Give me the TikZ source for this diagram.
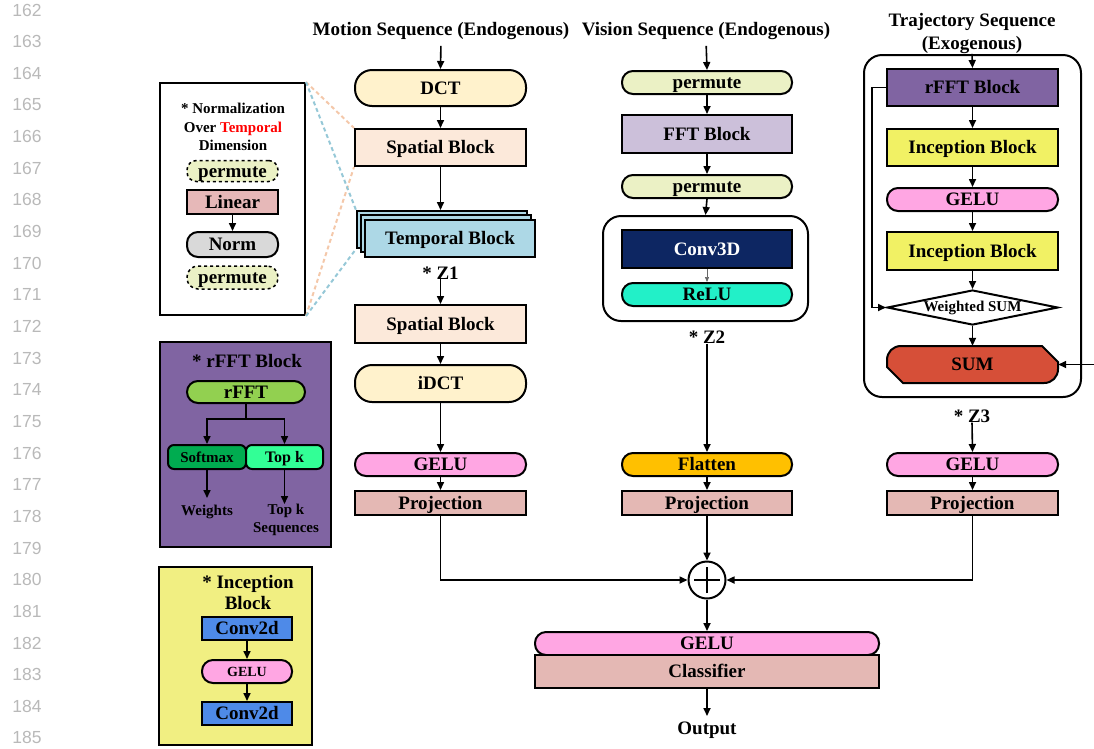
\documentclass[tikz,border=0pt]{standalone}
\usepackage{fontspec}
\setmainfont{Liberation Serif}
\newfontfamily\numfont{Liberation Sans}
\usetikzlibrary{arrows.meta,shapes.geometric}
\newcommand\fsz[1]{\fontsize{#1}{#1}\selectfont}
\definecolor{dctc}{RGB}{255,242,204}
\definecolor{spc}{RGB}{252,233,218}
\definecolor{tmpc}{RGB}{173,216,230}
\definecolor{geluc}{RGB}{255,166,227}
\definecolor{projc}{RGB}{228,184,180}
\definecolor{permc}{RGB}{235,241,197}
\definecolor{fftc}{RGB}{204,192,218}
\definecolor{convc}{RGB}{13,38,98}
\definecolor{reluc}{RGB}{34,240,200}
\definecolor{flatc}{RGB}{255,192,0}
\definecolor{rfftc}{RGB}{128,100,162}
\definecolor{incc}{RGB}{241,241,100}
\definecolor{inclg}{RGB}{241,239,130}
\definecolor{sumc}{RGB}{214,79,56}
\definecolor{normc}{RGB}{217,217,217}
\definecolor{linc}{RGB}{230,184,184}
\definecolor{rfl}{RGB}{146,208,80}
\definecolor{smc}{RGB}{0,172,80}
\definecolor{tkc}{RGB}{50,255,150}
\definecolor{c2dc}{RGB}{78,138,232}
\definecolor{orl}{RGB}{244,200,170}
\definecolor{bll}{RGB}{150,200,215}
\definecolor{numc}{RGB}{185,185,185}
\tikzset{
  ar/.style={-{Triangle[length=8pt,width=7pt]}, line width=1.6pt},
  bx/.style={draw, line width=2pt, inner sep=0pt, font=\bfseries\fsz{19}, text height=12.5pt, text depth=0pt},
  sbx/.style={font=\bfseries\fsz{15}, text height=10pt, text depth=0pt},
  pill/.style={bx, rounded corners=11pt},
  bigpill/.style={bx, rounded corners=17pt},
  grp/.style={draw, line width=2pt, rounded corners=18pt, fill=white, inner sep=0pt},
  lbl/.style={inner sep=0pt, font=\bfseries\fsz{19}, align=center},
  slbl/.style={inner sep=0pt, font=\bfseries\fsz{15}, align=center},
  lgbox/.style={draw, line width=2pt, inner sep=0pt},
  dl/.style={dashed, dash pattern=on 4pt off 3pt, line width=2pt},
}
\begin{document}
\begin{tikzpicture}[x=1pt,y=-1pt]
\useasboundingbox (0,0) rectangle (1094,748);
% line numbers
\foreach \i in {0,...,23}{
  \pgfmathtruncatemacro\nn{162+\i}
  \node[inner sep=0pt, font=\numfont\fsz{17.5}, text=numc] (ln\i) at (27,{10+31.65*\i}) {\nn};
}
% ---------- legend 1
\node[lgbox, fill=white, minimum width=145pt, minimum height=232pt] (lg1) at (232.5,199) {};
\node[slbl] (lg1t) at (233,127) {* Normalization\\[3.5pt]Over \textcolor{red}{Temporal}\\[3.5pt]Dimension};
\node[pill, dashed, line width=1.5pt, rounded corners=9.5pt, fill=permc, minimum width=91pt, minimum height=21pt] (lp1) at (232.5,171) {permute};
\node[bx, fill=linc, minimum width=91pt, minimum height=24pt] (llin) at (232.5,202) {Linear};
\node[pill, fill=normc, minimum width=91pt, minimum height=25pt] (lnorm) at (232.5,244.5) {Norm};
\node[pill, dashed, line width=1.5pt, fill=permc, minimum width=91pt, minimum height=23pt] (lp2) at (232.5,277.5) {permute};
\draw[ar] (llin) -- (lnorm);
% ---------- legend rFFT
\node[lgbox, fill=rfftc, minimum width=171pt, minimum height=205pt] (lg2) at (245.5,444.5) {};
\node[lbl] (lg2t) at (247,361) {* rFFT Block};
\node[pill, fill=rfl, minimum width=118pt, minimum height=22pt] (lrf) at (246,392) {rFFT};
\node[bx, sbx, rounded corners=6pt, fill=smc, minimum width=78pt, minimum height=24pt] (lsm) at (207,457) {Softmax};
\node[bx, rounded corners=6pt, fill=tkc, minimum width=77pt, minimum height=24pt, font=\bfseries\fsz{16}, text height=10.5pt] (ltk) at (284.5,457) {Top k};
\coordinate (br) at (246,419);
\draw[line width=1.6pt] (lrf.south) -- (br);
\draw[ar] (br) -| (lsm.north);
\draw[ar] (br) -| (ltk.north);
\node[slbl] (lw) at (207,512) {Weights};
\node[slbl] (lts) at (286,520) {Top k\\[3pt]Sequences};
\draw[ar] (lsm.south) -- (207,498);
\draw[ar] (ltk.south) -- (ltk.south |- lts.north);
% ---------- legend Inception
\node[lgbox, fill=inclg, minimum width=153pt, minimum height=178pt] (lg3) at (235.5,656) {};
\node[lbl] (lg3t) at (248,592.5) {* Inception\\[2pt]Block};
\node[bx, fill=c2dc, minimum width=90pt, minimum height=23pt] (lc1) at (247,628.5) {Conv2d};
\node[pill, sbx, fill=geluc, minimum width=90pt, minimum height=23pt, font=\bfseries\fsz{14}, text height=9.5pt] (lge) at (247,671.5) {GELU};
\node[bx, fill=c2dc, minimum width=90pt, minimum height=23pt] (lc2) at (247,713.5) {Conv2d};
\draw[ar] (lc1) -- (lge);
\draw[ar] (lge) -- (lc2);
% ---------- Motion column
\node[lbl] (t1) at (441,31) {Motion Sequence (Endogenous)};
\node[bigpill, fill=dctc, minimum width=171pt, minimum height=36pt] (dct) at (440.5,88) {DCT};
\node[bx, fill=spc, minimum width=171pt, minimum height=37pt] (sp1) at (440.5,147.5) {Spatial Block};
\node[bx, fill=tmpc, minimum width=170pt, minimum height=37pt] (tb1) at (442,229.5) {};
\node[bx, fill=tmpc, minimum width=170pt, minimum height=37pt] (tb2) at (446,233.5) {};
\node[bx, fill=tmpc, minimum width=170pt, minimum height=37pt] (tb3) at (450,238) {Temporal Block};
\node[lbl] (z1) at (440.5,273) {* Z1};
\node[bx, fill=spc, minimum width=171pt, minimum height=38pt] (sp2) at (440.5,324) {Spatial Block};
\node[bigpill, fill=dctc, minimum width=171pt, minimum height=37pt] (idct) at (440.5,383.5) {iDCT};
\node[pill, fill=geluc, minimum width=171pt, minimum height=23pt] (g1) at (440.5,464.5) {GELU};
\node[bx, fill=projc, minimum width=171pt, minimum height=24pt] (p1) at (440.5,503) {Projection};
\draw[ar, shorten <=6pt] (t1.south) -- (dct.north);
\draw[ar] (dct) -- (sp1);
\draw[ar] (sp1.south) -- (sp1.south |- tb1.north);
\draw[ar] (z1.south) -- (sp2.north);
\draw[ar] (sp2) -- (idct);
\draw[ar] (idct) -- (g1);
\draw[ar] (g1) -- (p1);
% dashed zoom lines
\draw[dl, orl] (lg1.north east) -- (sp1.north west);
\draw[dl, orl] (lg1.south east) -- (sp1.south west);
\draw[dl, bll] (lg1.north east) -- (tb1.north west);
\draw[dl, bll] (lg1.south east) -- (tb1.south west);
% ---------- Vision column
\node[lbl] (t2) at (706,31) {Vision Sequence (Endogenous)};
\node[pill, fill=permc, minimum width=170pt, minimum height=23pt] (vp1) at (707,82.5) {permute};
\node[bx, fill=fftc, minimum width=170pt, minimum height=38pt] (fft) at (707,134) {FFT Block};
\node[pill, fill=permc, minimum width=170pt, minimum height=23pt] (vp2) at (707,186.5) {permute};
\node[grp, minimum width=205pt, minimum height=105pt] (g2box) at (705.5,268.5) {};
\node[bx, fill=convc, text=white, minimum width=170pt, minimum height=38pt] (c3d) at (707,249) {Conv3D};
\node[pill, fill=reluc, minimum width=170pt, minimum height=23pt] (relu) at (707,294.5) {ReLU};
\node[lbl] (z2) at (707,337) {* Z2};
\node[pill, fill=flatc, minimum width=170pt, minimum height=23pt] (flat) at (707,464.5) {Flatten};
\node[bx, fill=projc, minimum width=170pt, minimum height=24pt] (p2) at (707,503) {Projection};
\draw[ar, shorten <=6pt] (t2.south) -- (vp1.north);
\draw[ar] (vp1) -- (fft);
\draw[ar] (fft) -- (vp2);
\draw[ar] (vp2.south) -- (g2box.north);
\draw[-{Triangle[length=5pt,width=4pt]}, line width=0.6pt, black!60] (c3d) -- (relu);
\draw[ar] (z2.south) -- (flat.north);
\draw[ar] (flat) -- (p2);
% ---------- Trajectory column
\node[lbl] (t3) at (972,33.5) {Trajectory Sequence\\[4pt](Exogenous)};
\node[grp, fill=none, minimum width=217pt, minimum height=342pt] (g3box) at (972.5,226) {};
\node[bx, fill=rfftc, minimum width=171pt, minimum height=37pt] (rfb) at (972.5,87.5) {rFFT Block};
\node[bx, fill=incc, minimum width=171pt, minimum height=37pt] (inc1) at (972.5,147.5) {Inception Block};
\node[pill, fill=geluc, minimum width=171pt, minimum height=23pt] (g3a) at (972.5,199.5) {GELU};
\node[bx, fill=incc, minimum width=171pt, minimum height=38pt] (inc2) at (972.5,251) {Inception Block};
\node[draw, line width=2pt, diamond, aspect=4.9, fill=white, minimum width=171pt, minimum height=35pt, inner sep=0pt, font=\bfseries\fsz{15}] (wsum) at (972.5,307.5) {Weighted SUM};
\draw[line width=2pt, fill=sumc] (887,360) .. controls (887,352) and (893,346) .. (901,346) -- (1042,346) -- (1058,362) -- (1058,369) .. controls (1058,377) and (1052,383) .. (1044,383) -- (903,383) -- (887,367) -- cycle;
\node[lbl, minimum width=171pt, minimum height=37pt, text height=12.5pt, text depth=0pt] (sum) at (972.5,364.5) {SUM};
\node[lbl] (z3) at (972,416) {* Z3};
\node[pill, fill=geluc, minimum width=171pt, minimum height=23pt] (g3) at (972.5,464.5) {GELU};
\node[bx, fill=projc, minimum width=171pt, minimum height=24pt] (p3) at (972.5,503) {Projection};
\draw[ar] (t3.south) -- (rfb.north);
\draw[ar] (rfb) -- (inc1);
\draw[ar] (inc1) -- (g3a);
\draw[ar] (g3a) -- (inc2);
\draw[ar] (inc2) -- (wsum);
\draw[ar] (wsum) -- (sum);
\draw[ar] (rfb.west) -- ++(-14,0) |- (wsum.west);
\coordinate (rin) at (1094,364.5);
\draw[ar] (rin) -- (sum.east);
\draw[ar] (z3.south) -- (g3.north);
\draw[ar] (g3) -- (p3);
% ---------- merge
\node[draw, circle, line width=2pt, fill=white, minimum size=37pt, inner sep=0pt] (plus) at (707,580) {};
\draw[line width=2pt] ([xshift=-13pt]plus.center) -- ([xshift=13pt]plus.center);
\draw[line width=2pt] ([yshift=-13pt]plus.center) -- ([yshift=13pt]plus.center);
\draw[ar] (p1.south) |- (plus.west);
\draw[ar] (p3.south) |- (plus.east);
\draw[ar] (p2.south) -- (plus.north);
\node[pill, fill=geluc, minimum width=344pt, minimum height=23pt] (gf) at (707,643.5) {GELU};
\node[bx, fill=projc, minimum width=344pt, minimum height=33pt] (cls) at (707,671.5) {Classifier};
\node[lbl] (out) at (707,730) {Output};
\draw[ar] (plus.south) -- (gf.north);
\draw[ar] (cls.south) -- ++(0,27);
\end{tikzpicture}
\end{document}
